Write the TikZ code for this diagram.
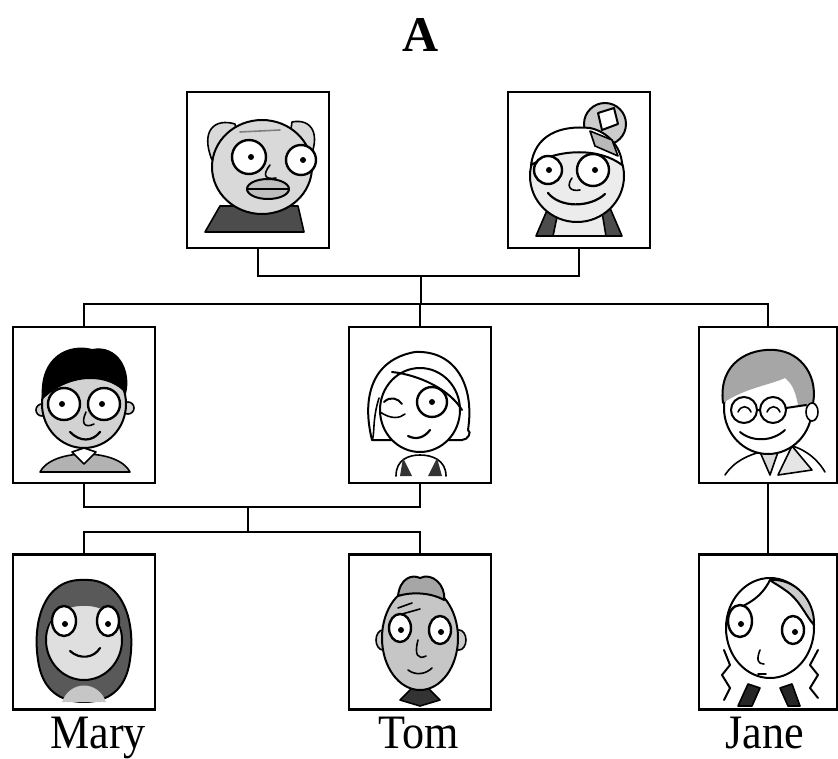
\documentclass[tikz,border=0pt]{standalone}
\usepackage{fontspec}
\setmainfont{Liberation Serif}
\begin{document}
\begin{tikzpicture}[x=1pt,y=-1pt,
  pbox/.style={draw,line width=2.4pt,minimum width=142pt,minimum height=156pt,inner sep=0pt},
  conn/.style={line width=2.4pt},
  fl/.style={line width=1.6pt,line join=round,line cap=round},
  eye/.style={draw,fill=white,line width=2.4pt},
  lbl/.style={font=\fontsize{48}{52}\selectfont,anchor=base,inner sep=0pt,xscale=0.92}]
\useasboundingbox (0,0) rectangle (838,759);
% ---- boxes
\node[pbox] (gp) at (258,170) {};
\node[pbox] (gm) at (579,170) {};
\node[pbox] (p1) at (84,405) {};
\node[pbox] (p2) at (420,405) {};
\node[pbox,minimum width=138pt] (p3) at (768,405) {};
\node[pbox,minimum height=155pt] (c1) at (84,632) {};
\node[pbox,minimum height=155pt] (c2) at (420,632) {};
\node[pbox,minimum width=138pt,minimum height=155pt] (c3) at (768,632) {};
% ---- title and labels
\node[font=\bfseries\fontsize{50}{55}\selectfont,anchor=base,inner sep=0pt] (title) at (421,52) {A};
\node[lbl] (lm) at (98,748) {Mary};
\node[lbl] (lt) at (419,748) {Tom};
\node[lbl] (lj) at (765,748) {Jane};
% ---- connectors
\coordinate (j1) at (421,276);
\coordinate (j2) at (421,304);
\coordinate (j3) at (248,507);
\coordinate (j4) at (248,532);
\draw[conn] (gp.south) |- (j1) -| (gm.south);
\draw[conn] (j1) -- (j2);
\draw[conn] (p1.north) |- (j2) -| (p3.north);
\draw[conn] (p2.north) -- (p2.north |- j2);
\draw[conn] (p1.south) |- (j3) -| (p2.south);
\draw[conn] (j3) -- (j4);
\draw[conn] (c1.north) |- (j4) -| (c2.north);
\draw[conn] (p3.south) -- (c3.north);
% ================= faces
% Grandpa
\draw[fl,fill=black!70] (205,232) -- (220,206) -- (298,206) -- (304,232) -- cycle;
\draw[fl,fill=gray!30] (212,160) .. controls (200,130) and (215,118) .. (235,124) -- (240,150) -- cycle;
\draw[fl,fill=gray!30] (308,162) .. controls (322,135) and (312,118) .. (292,122) -- (288,150) -- cycle;
\draw[fl,line width=2pt,fill=gray!30] (262,167) ellipse[x radius=50pt,y radius=47pt];
\draw[fl,gray] (240,132) -- (280,130);
\draw[eye] (249,157) circle[radius=17pt];
\draw[eye] (301,160) circle[radius=15pt];
\fill (251,157) circle[radius=3pt] (303,160) circle[radius=3pt];
\draw[fl] (270,165) .. controls (262,175) and (265,180) .. (276,178);
\draw[fl,line width=2pt,fill=gray!50] (268,189) ellipse[x radius=21pt,y radius=10pt];
\draw[fl] (248,189) -- (288,189);
% Grandma
\draw[fl,fill=black!70] (536,236) -- (548,208) -- (610,208) -- (622,236) -- cycle;
\draw[fl,fill=gray!15] (553,236) -- (558,212) -- (602,212) -- (606,236) -- cycle;
\draw[fl,line width=2pt,fill=gray!40] (605,124) circle[radius=21pt];
\draw[fl,line width=2pt,fill=white] (598,113) -- (614,108) -- (618,124) -- (602,130) -- cycle;
\draw[fl,line width=2pt,fill=gray!15] (577,176) ellipse[x radius=47pt,y radius=46pt];
\draw[fl,line width=2pt,fill=white] (531,165) .. controls (535,135) and (560,125) .. (590,128) .. controls (610,132) and (622,150) .. (622,165) .. controls (600,148) and (560,148) .. (531,165) -- cycle;
\draw[fl,fill=gray!55] (590,131) -- (612,140) -- (618,156) -- (595,146) -- cycle;
\draw[eye] (548,170) circle[radius=14pt];
\draw[eye] (593,170) circle[radius=16pt];
\fill (549,170) circle[radius=3pt] (595,170) circle[radius=3pt];
\draw[fl] (572,178) .. controls (566,186) and (570,192) .. (580,190);
\draw[fl,line width=2.2pt] (548,193) .. controls (560,208) and (590,208) .. (605,194);
% Boy (father)
\draw[fl,fill=gray!60] (40,472) .. controls (52,448) and (118,448) .. (130,472) -- cycle;
\draw[fl,fill=white] (72,452) -- (84,464) -- (96,452) -- (84,448) -- cycle;
\draw[fl,fill=gray!35] (42,410) circle[radius=6pt] (128,408) circle[radius=6pt];
\draw[fl,line width=2pt,fill=gray!35] (84,404) ellipse[x radius=42pt,y radius=44pt];
\fill[black] (42,400) .. controls (38,355) and (70,343) .. (92,349) .. controls (118,344) and (132,370) .. (126,394) .. controls (110,374) and (70,372) .. (42,400) -- cycle;
\draw[eye] (64,404) circle[radius=16pt];
\draw[eye] (104,404) circle[radius=16pt];
\fill (62,404) circle[radius=3pt] (102,404) circle[radius=3pt];
\draw[fl] (86,412) .. controls (80,425) and (86,428) .. (94,424);
\draw[fl,line width=2.2pt] (70,432) .. controls (80,442) and (92,442) .. (100,432);
% Woman (mother)
\draw[fl] (396,476) .. controls (396,460) and (408,455) .. (420,455) .. controls (432,455) and (446,460) .. (446,476);
\fill[black!80] (403,458) -- (412,476) -- (400,476) -- cycle (437,458) -- (428,476) -- (442,476) -- cycle;
\draw[fl,line width=2pt,fill=white] (372,440) .. controls (362,400) and (370,360) .. (415,352) .. controls (455,350) and (475,385) .. (468,430) .. controls (472,432) and (468,440) .. (462,440) -- cycle;
\draw[fl,line width=2pt,fill=white] (420,410) ellipse[x radius=40pt,y radius=42pt];
\draw[fl,line width=2pt] (392,372) .. controls (420,375) and (450,390) .. (462,410);
\draw[fl] (379,398) .. controls (372,420) and (375,435) .. (372,440);
\draw[fl,line width=2pt] (384,402) .. controls (390,396) and (398,398) .. (402,404);
\draw[fl] (380,412) .. controls (392,420) and (400,418) .. (405,414);
\draw[eye] (432,402) circle[radius=15pt];
\fill (432,402) circle[radius=3pt];
\draw[fl,line width=2.2pt] (408,436) .. controls (416,440) and (424,438) .. (430,430);
% Man (uncle)
\draw[fl] (725,475) .. controls (735,460) and (750,455) .. (760,452) (825,472) .. controls (815,455) and (800,448) .. (792,446);
\draw[fl,fill=gray!30] (760,452) -- (770,475) -- (778,452) -- cycle;
\draw[fl,fill=gray!20] (792,446) -- (778,475) -- (812,470) -- cycle;
\draw[fl,line width=2pt,fill=white] (768,408) ellipse[x radius=44pt,y radius=46pt];
\fill[gray!70] (723,403) .. controls (718,362) and (750,348) .. (775,350) .. controls (802,352) and (820,378) .. (812,408) -- (798,405) .. controls (795,388) and (790,382) .. (785,378) .. controls (770,385) and (745,388) .. (723,403) -- cycle;
\draw[fl,line width=2pt] (723,403) .. controls (718,362) and (750,348) .. (775,350) .. controls (802,352) and (820,378) .. (812,408);
\draw[fl,fill=white] (812,412) ellipse[x radius=6pt,y radius=9pt];
\draw[fl,line width=2pt] (744,410) circle[radius=13pt] (773,410) circle[radius=13pt] (757,410) -- (760,410) (786,408) -- (806,405);
\draw[fl] (738,412) .. controls (741,405) and (748,405) .. (751,412) (767,412) .. controls (770,405) and (777,405) .. (780,412);
\draw[fl,line width=2pt] (740,432) .. controls (752,442) and (772,442) .. (785,430);
% Mary
\draw[fl,line width=2pt,fill=black!65] (84,580) .. controls (45,578) and (32,620) .. (38,660) .. controls (42,690) and (60,702) .. (84,702) .. controls (108,702) and (126,690) .. (130,660) .. controls (136,620) and (122,578) .. (84,580) -- cycle;
\fill[gray!45] (62,702) .. controls (70,680) and (98,680) .. (106,702) -- cycle;
\draw[fl,line width=2pt,fill=gray!25] (84,640) ellipse[x radius=38pt,y radius=40pt];
\fill[black!65] (46,630) .. controls (48,600) and (70,592) .. (84,592) .. controls (100,592) and (120,600) .. (122,630) .. controls (118,615) and (100,605) .. (84,606) .. controls (68,605) and (50,615) .. (46,630) -- cycle;
\draw[eye] (64,621) ellipse[x radius=12pt,y radius=15pt];
\draw[eye] (108,621) ellipse[x radius=11pt,y radius=15pt];
\fill (65,624) circle[radius=3pt] (108,624) circle[radius=3pt];
\draw[fl,line width=2.2pt] (70,651) .. controls (80,660) and (94,658) .. (100,648);
% Tom
\draw[fl,fill=black!80] (400,700) -- (412,688) -- (428,688) -- (440,700) -- (420,706) -- cycle;
\draw[fl,fill=gray!40] (383,640) ellipse[x radius=7pt,y radius=10pt] (459,640) ellipse[x radius=7pt,y radius=10pt];
\draw[fl,line width=2pt,fill=gray!45] (420,638) ellipse[x radius=38pt,y radius=52pt];
\draw[fl,line width=2pt,fill=gray!70] (398,596) .. controls (400,578) and (412,574) .. (420,578) .. controls (432,572) and (446,585) .. (444,600) .. controls (430,592) and (410,592) .. (398,596) -- cycle;
\draw[fl] (398,608) -- (412,603) (402,614) -- (420,609);
\draw[eye] (400,628) ellipse[x radius=11pt,y radius=14pt];
\draw[eye] (440,630) ellipse[x radius=11pt,y radius=14pt];
\fill (401,630) circle[radius=3pt] (441,632) circle[radius=3pt];
\draw[fl] (418,640) .. controls (414,655) and (418,660) .. (426,656);
\draw[fl] (408,670) .. controls (416,676) and (426,674) .. (432,668);
% Jane
\draw[fl,fill=black!85] (738,706) -- (748,684) -- (760,688) -- (752,706) -- cycle (800,706) -- (792,684) -- (780,688) -- (788,706) -- cycle;
\draw[fl,line width=2pt] (724,650) -- (730,665) -- (722,675) -- (730,688) -- (724,700);
\draw[fl,line width=2pt] (818,650) -- (810,665) -- (818,675) -- (810,688) -- (818,698);
\draw[fl,line width=2pt,fill=white] (770,628) ellipse[x radius=44pt,y radius=50pt];
\draw[fl,line width=2pt,fill=gray!40] (770,580) .. controls (795,578) and (815,600) .. (814,625) .. controls (805,615) and (800,600) .. (785,590) .. controls (778,585) and (772,582) .. (770,580) -- cycle;
\draw[fl,line width=2pt] (770,580) .. controls (760,600) and (745,605) .. (730,612);
\draw[eye] (740,621) ellipse[x radius=12pt,y radius=16pt];
\draw[eye] (793,630) ellipse[x radius=11pt,y radius=14pt];
\fill (741,624) circle[radius=3pt] (795,632) circle[radius=3pt];
\draw[fl] (760,650) .. controls (756,660) and (758,664) .. (764,664);
\draw[fl] (758,674) -- (766,674);
\end{tikzpicture}
\end{document}
